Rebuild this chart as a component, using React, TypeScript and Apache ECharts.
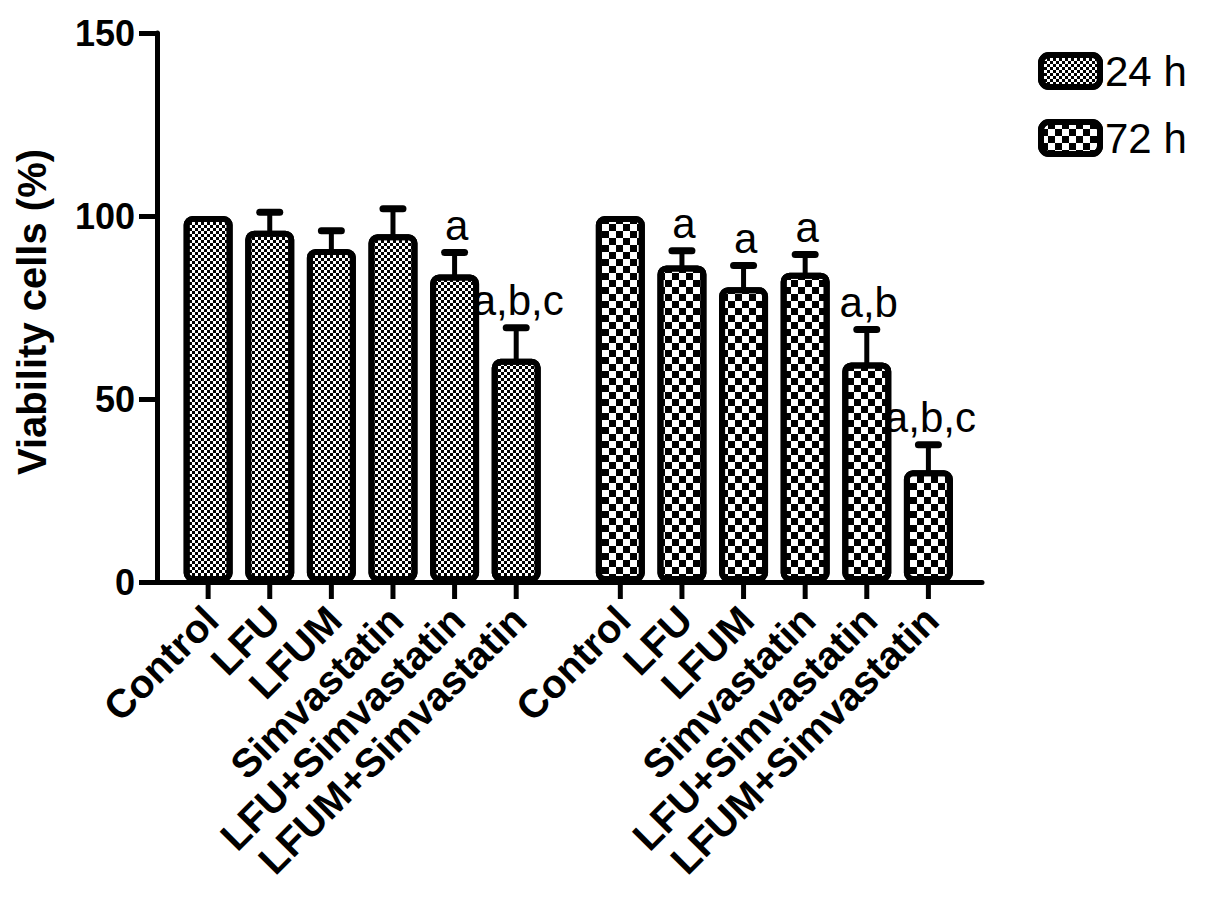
import React, { useEffect, useRef } from "react";
import * as echarts from "echarts";

const categories = ["Control", "LFU", "LFUM", "Simvastatin", "LFU+Simvastatin", "LFUM+Simvastatin"];
const seriesNames = ["24 h", "72 h"];
const values24 = [100, 96, 91, 95, 84, 61];
const errors24 = [0, 5, 5, 7, 6, 8.5];
const signif24 = ["", "", "", "", "a", "a,b,c"];
const values72 = [100, 86.5, 80.5, 84.5, 60, 30.5];
const errors72 = [0, 4, 6, 5, 9, 7];
const signif72 = ["", "a", "a", "a", "a,b", "a,b,c"];
const yMin = 0;
const yMax = 150;
const yInterval = 50;

const FONT = '"Liberation Sans", Arial, sans-serif';
const GROUP_STRIDE = 6.69;
const pos = (g: number, i: number) => 1 + i + g * GROUP_STRIDE;

const decal24 = {
  symbol: "rect",
  symbolSize: 1,
  dashArrayX: [[3, 3], [0, 3, 3, 0]],
  dashArrayY: [3, 0],
  color: "#000",
};
const decal72 = {
  symbol: "rect",
  symbolSize: 1,
  dashArrayX: [[7, 7], [0, 7, 7, 0]],
  dashArrayY: [7, 0],
  color: "#000",
};

export default function App() {
  const ref = useRef<HTMLDivElement>(null);
  useEffect(() => {
    if (!ref.current) return;
    const chart = echarts.init(ref.current, undefined, { renderer: "svg" });
    const groups = [
      { values: values24, errors: errors24, signif: signif24 },
      { values: values72, errors: errors72, signif: signif72 },
    ];
    const tickData: any[] = [];
    groups.forEach((_, g) => categories.forEach((c, i) => tickData.push([pos(g, i), 0])));
    const tickLabels: string[] = [];
    groups.forEach(() => categories.forEach((c) => tickLabels.push(c)));

    const barSeries = groups.map((gr, g) => ({
      type: "bar",
      name: seriesNames[g],
      data: gr.values.map((v, i) => [pos(g, i), v]),
      barWidth: 49,
      barGap: "-100%",
      z: 3,
      itemStyle: {
        color: "#fff",
        borderColor: "#000",
        borderWidth: 6,
        borderRadius: 6,
        decal: g === 0 ? decal24 : decal72,
      },
    }));

    const errSeries = groups.map((gr, g) => ({
      type: "custom",
      name: "err" + g,
      z: 4,
      data: gr.values.map((v, i) => [pos(g, i), v, gr.errors[i]]),
      renderItem: (params: any, api: any) => {
        const x = api.value(0);
        const v = api.value(1);
        const e = api.value(2);
        const base = api.coord([x, v]);
        const top = api.coord([x, v + e]);
        const children: any[] = [];
        if (e > 0) {
          children.push({
            type: "line",
            shape: { x1: base[0], y1: base[1] + 2, x2: top[0], y2: top[1] },
            style: { stroke: "#000", lineWidth: 5 },
          });
          children.push({
            type: "line",
            shape: { x1: top[0] - 10, y1: top[1], x2: top[0] + 10, y2: top[1] },
            style: { stroke: "#000", lineWidth: 7, lineCap: "round" },
          });
        }
        const lbl = gr.signif[params.dataIndex];
        if (lbl) {
          children.push({
            type: "text",
            x: top[0] + 2,
            y: top[1] - 6,
            style: {
              text: lbl,
              align: "center",
              verticalAlign: "bottom",
              font: `42px ${FONT}`,
              fill: "#000",
            },
          });
        }
        return { type: "group", children };
      },
    }));

    const tickSeries = {
      type: "custom",
      name: "ticks",
      z: 5,
      data: tickData,
      renderItem: (params: any, api: any) => {
        const p = api.coord([api.value(0), api.value(1)]);
        return {
          type: "group",
          children: [
            {
              type: "line",
              shape: { x1: p[0], y1: p[1], x2: p[0], y2: p[1] + 17 },
              style: { stroke: "#000", lineWidth: 5 },
            },
            {
              type: "text",
              x: p[0] + 3,
              y: p[1] + 31,
              rotation: Math.PI / 4,
              style: {
                text: tickLabels[params.dataIndex],
                align: "right",
                verticalAlign: "middle",
                font: `bold 40px ${FONT}`,
                fill: "#000",
              },
            },
          ],
        };
      },
    };

    chart.setOption({
      animation: false,
      backgroundColor: "#fff",
      grid: { left: 157, right: 223, top: 33, bottom: 318, containLabel: false },
      legend: {
        orient: "vertical",
        left: 1038,
        top: 50,
        padding: 0,
        data: seriesNames,
        icon: "roundRect",
        itemWidth: 59,
        itemHeight: 32,
        itemGap: 25,
        itemStyle: { borderColor: "#000", borderWidth: 6 },
        textStyle: { fontSize: 42, fontFamily: FONT, color: "#000" },
        selectedMode: false,
      },
      xAxis: {
        type: "value",
        min: 0.17,
        max: 13.56,
        axisLine: { show: true, lineStyle: { color: "#000", width: 5 } },
        axisTick: { show: false },
        axisLabel: { show: false },
        splitLine: { show: false },
      },
      yAxis: {
        type: "value",
        min: yMin,
        max: yMax,
        interval: yInterval,
        axisLine: { show: true, lineStyle: { color: "#000", width: 5 } },
        axisTick: { show: true, length: 18, lineStyle: { color: "#000", width: 5 } },
        axisLabel: {
          margin: 22,
          fontSize: 36,
          fontWeight: "bold",
          fontFamily: FONT,
          color: "#000",
        },
        splitLine: { show: false },
      },
      graphic: [
        {
          type: "text",
          x: 32,
          y: 312,
          rotation: Math.PI / 2,
          style: {
            text: "Viability cells (%)",
            align: "center",
            verticalAlign: "middle",
            font: `bold 40px ${FONT}`,
            fill: "#000",
          },
        },
      ],
      series: [...barSeries, ...errSeries, tickSeries],
    });
    return () => chart.dispose();
  }, []);
  return (
    <div
      ref={ref}
      style={{ position: "absolute", left: 0, top: 0, width: 1205, height: 900 }}
    />
  );
}
